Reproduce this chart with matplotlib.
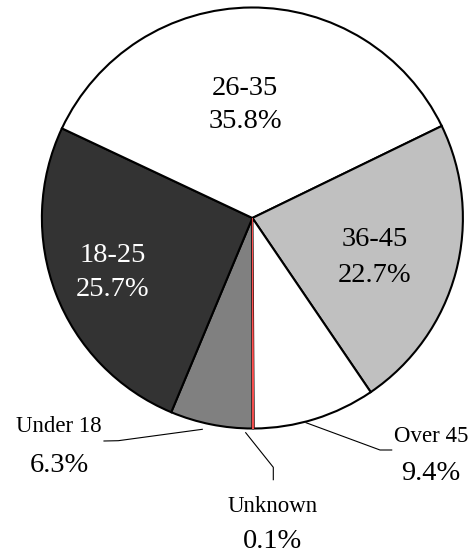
import matplotlib
matplotlib.use("Agg")
import matplotlib.pyplot as plt

# ---- data ----
categories = ["Under 18", "18-25", "26-35", "36-45", "Over 45", "Unknown"]
shares = [6.3, 25.7, 35.8, 22.7, 9.4, 0.1]
pct_labels = ["6.3%", "25.7%", "35.8%", "22.7%", "9.4%", "0.1%"]
colors = ["#808080", "#333333", "#FFFFFF", "#C0C0C0", "#FFFFFF", "#FF5050"]

W, H = 474, 554
plt.rcParams["font.family"] = ["Liberation Serif", "DejaVu Serif"]

fig = plt.figure(figsize=(W / 100, H / 100), dpi=100)
ax = fig.add_axes([0, 0, 1, 1])

def Y(y):
    return H - y

cx, cy, r = 252.4, 218.0, 210.5
wedges, _ = ax.pie(shares, colors=colors, startangle=-90, counterclock=False,
                   center=(cx, Y(cy)), radius=r,
                   wedgeprops=dict(edgecolor="black", linewidth=1.5))
# the tiny "Unknown" slice shows as a thin red sliver between black borders
wedges[-1].set_edgecolor("#FF5050")
wedges[-1].set_linewidth(0.7)

ax.set_xlim(0, W)
ax.set_ylim(0, H)
ax.set_aspect("equal")
ax.axis("off")

big = 20.5
small = 16.5

# inner labels: (index, x, name baseline, pct baseline, color)
inner = [(2, 245, 95, 128, "black"),
         (1, 113, 261.5, 296.5, "white"),
         (3, 375, 246.5, 281.5, "black")]
for i, x, y1, y2, c in inner:
    ax.text(x, Y(y1), categories[i], ha="center", va="baseline", fontsize=big, color=c)
    ax.text(x, Y(y2), pct_labels[i], ha="center", va="baseline", fontsize=big, color=c)

# outer labels: (index, x, name baseline, pct baseline)
outer = [(0, 59, 431.5, 471.5),
         (4, 431, 441.5, 480),
         (5, 273, 512, 547.5)]
for i, x, y1, y2 in outer:
    ax.text(x, Y(y1), categories[i], ha="center", va="baseline", fontsize=small)
    ax.text(x, Y(y2), pct_labels[i], ha="center", va="baseline", fontsize=big)

# leader lines
leaders = [[(202.3, 429.3), (118.3, 440.7), (104, 441)],
           [(306, 422.7), (380, 450), (391.7, 450)],
           [(245.7, 432.7), (273.3, 467.3), (273.3, 479.7)]]
for pts in leaders:
    xs = [p[0] for p in pts]
    ys = [Y(p[1]) for p in pts]
    ax.plot(xs, ys, color="black", linewidth=0.8)

fig.savefig("out.png", dpi=100)
